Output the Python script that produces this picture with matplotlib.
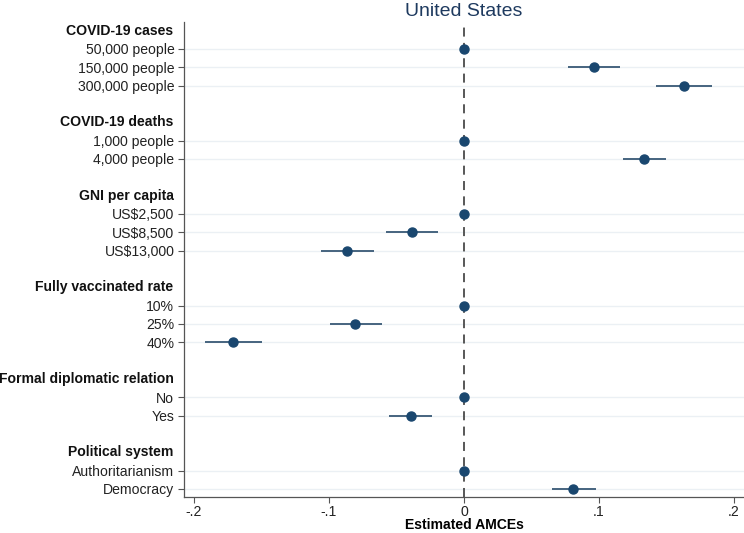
import matplotlib
matplotlib.use("Agg")
import matplotlib.pyplot as plt

plt.rcParams['font.family'] = ['Liberation Sans', 'DejaVu Sans']

# attribute groups and their levels (first level is the reference category)
groups = ["COVID-19 cases", "COVID-19 deaths", "GNI per capita",
          "Fully vaccinated rate", "Formal diplomatic relation", "Political system"]
levels = [
    ["50,000 people", "150,000 people", "300,000 people"],
    ["1,000 people", "4,000 people"],
    ["US$2,500", "US$8,500", "US$13,000"],
    ["10%", "25%", "40%"],
    ["No", "Yes"],
    ["Authoritarianism", "Democracy"],
]
estimates = [
    [0.0, 0.0965, 0.163],
    [0.0, 0.1335],
    [0.0, -0.0388, -0.0865],
    [0.0, -0.0804, -0.171],
    [0.0, -0.0396],
    [0.0, 0.081],
]
ci_low = [
    [0.0, 0.0769, 0.142],
    [0.0, 0.1175],
    [0.0, -0.058, -0.106],
    [0.0, -0.0996, -0.1916],
    [0.0, -0.0553],
    [0.0, 0.065],
]
ci_high = [
    [0.0, 0.1159, 0.184],
    [0.0, 0.1498],
    [0.0, -0.019, -0.0665],
    [0.0, -0.061, -0.1495],
    [0.0, -0.0239],
    [0.0, 0.098],
]
xticks = [-0.2, -0.1, 0, 0.1, 0.2]
xticklabels = ["-.2", "-.1", "0", ".1", ".2"]

navy = "#1a476f"
fs = 10.1

fig = plt.figure(figsize=(7.44, 5.33), dpi=100)
ax = fig.add_axes([184 / 744, 1 - 497.3 / 533, 1 - 184 / 744, (497.3 - 22) / 533])

row = 0
tick_pos, tick_lab, header_pos = [], [], []
for g, labs, est, lo, hi in zip(groups, levels, estimates, ci_low, ci_high):
    header_pos.append((row, g))
    row += 1
    for lab, e, l, h in zip(labs, est, lo, hi):
        tick_pos.append(row)
        tick_lab.append(lab)
        ax.axhline(row, color="#ebf0f4", lw=1.0, zorder=0)
        if h > l:
            ax.plot([l, h], [row, row], color="#46647f", lw=1.4, zorder=2,
                    solid_capstyle="butt")
        ax.plot(e, row, "o", color=navy, ms=6.5, zorder=3)
        row += 1
    row += 1

ax.axvline(0, color="#4a4a4a", lw=1.3, dashes=(5, 3.5), zorder=1)

for y, g in header_pos:
    ax.annotate(g, xy=(0, y), xycoords=("axes fraction", "data"),
                xytext=(-7.5, 0), textcoords="offset points",
                ha="right", va="center", fontsize=fs, fontweight="bold",
                color="#111111", annotation_clip=False)

ax.set_yticks(tick_pos)
ax.set_yticklabels(tick_lab, fontsize=fs, color="#222222")
ax.set_ylim(25.46, -0.47)
ax.set_xlim(-0.2074, 0.2074)
ax.set_xticks(xticks)
ax.set_xticklabels(xticklabels, fontsize=fs, color="#222222")
ax.tick_params(axis="both", length=4, width=0.8, color="#555555", pad=3)
ax.tick_params(axis="x", pad=1.5)
ax.set_xlabel("Estimated AMCEs", fontsize=fs, fontweight="bold", labelpad=-1)

for s in ["top", "right"]:
    ax.spines[s].set_visible(False)
for s in ["left", "bottom"]:
    ax.spines[s].set_color("#555555")
    ax.spines[s].set_linewidth(0.9)

fig.text(464 / 744, 1 - 16 / 533, "United States", ha="center", va="baseline",
         fontsize=14, color="#1e3a5f")

fig.savefig("out.png", dpi=100)
